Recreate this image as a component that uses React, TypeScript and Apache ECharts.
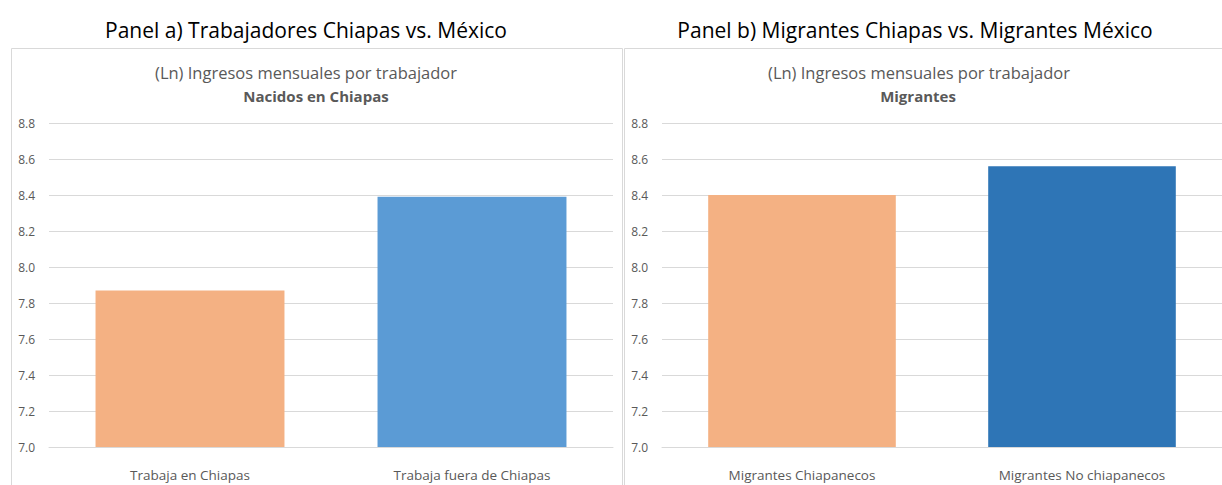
import React, { useEffect, useRef } from "react";
import * as echarts from "echarts";

const categoriesA = ["Trabaja en Chiapas", "Trabaja fuera de Chiapas"];
const valuesA = [7.87, 8.39];
const colorsA = ["#F4B183", "#5B9BD5"];

const categoriesB = ["Migrantes Chiapanecos", "Migrantes No chiapanecos"];
const valuesB = [8.4, 8.56];
const colorsB = ["#F4B183", "#2E75B6"];

const yMin = 7.0;
const yMax = 8.8;
const yInterval = 0.2;

const panelTitles = [
  "Panel a) Trabajadores Chiapas vs. México",
  "Panel b) Migrantes Chiapas vs. Migrantes México",
];
const chartTitles = [
  "(Ln) Ingresos mensuales por trabajador",
  "(Ln) Ingresos mensuales por trabajador",
];
const chartSubtitles = ["Nacidos en Chiapas", "Migrantes"];

const FONT = "'Open Sans', 'Noto Sans', sans-serif";
const GRID = "#D9D9D9";
const LABEL = "#595959";

export default function App() {
  const ref = useRef<HTMLDivElement>(null);
  useEffect(() => {
    if (!ref.current) return;
    const chart = echarts.init(ref.current, undefined, { renderer: "svg" });
    const grids = [
      { left: 49, top: 123, width: 564, height: 324 },
      { left: 662, top: 123, width: 565, height: 324 },
    ];
    const cats = [categoriesA, categoriesB];
    const vals = [valuesA, valuesB];
    const cols = [colorsA, colorsB];
    const centers = [306, 919];
    const panelCenters = [306, 915];
    const xAxis = grids.map((_, i) => ({
      type: "category",
      gridIndex: i,
      data: cats[i],
      axisLine: { show: true, lineStyle: { color: GRID, width: 1 } },
      axisTick: { show: false },
      axisLabel: { color: LABEL, fontSize: 13.5, fontFamily: FONT, margin: 21 },
    }));
    const yAxis = grids.map((_, i) => ({
      type: "value",
      gridIndex: i,
      min: yMin,
      max: yMax,
      interval: yInterval,
      axisLine: { show: false },
      axisTick: { show: false },
      splitLine: { lineStyle: { color: GRID, width: 1 } },
      axisLabel: {
        color: LABEL,
        fontSize: 12,
        fontFamily: FONT,
        margin: 14,
        formatter: (v: number) => v.toFixed(1),
      },
    }));
    const series = grids.map((_, i) => ({
      type: "bar",
      xAxisIndex: i,
      yAxisIndex: i,
      barWidth: "67%",
      data: vals[i].map((v, j) => ({ value: v, itemStyle: { color: cols[i][j] } })),
    }));
    const graphic: any[] = [
      {
        type: "rect",
        shape: { x: 11.5, y: 48.5, width: 611, height: 460 },
        style: { fill: "#fff", stroke: GRID, lineWidth: 1 },
        z: -10,
      },
      {
        type: "rect",
        shape: { x: 624.5, y: 48.5, width: 620, height: 460 },
        style: { fill: "#fff", stroke: GRID, lineWidth: 1 },
        z: -10,
      },
    ];
    for (let i = 0; i < 2; i++) {
      graphic.push({
        type: "text",
        x: panelCenters[i],
        y: 30,
        style: {
          text: panelTitles[i],
          align: "center",
          verticalAlign: "middle",
          fontSize: 21,
          fontFamily: FONT,
          fill: "#000",
        },
      });
      graphic.push({
        type: "text",
        x: centers[i],
        y: 72,
        style: {
          text: chartTitles[i],
          align: "center",
          verticalAlign: "middle",
          fontSize: 16.5,
          fontFamily: FONT,
          fill: LABEL,
        },
      });
      graphic.push({
        type: "text",
        x: i === 0 ? 316 : 918,
        y: 96,
        style: {
          text: chartSubtitles[i],
          align: "center",
          verticalAlign: "middle",
          fontSize: 15,
          fontWeight: "bold",
          fontFamily: FONT,
          fill: LABEL,
        },
      });
    }
    chart.setOption({
      animation: false,
      grid: grids,
      xAxis,
      yAxis,
      series,
      graphic,
    } as any);
    return () => chart.dispose();
  }, []);
  return (
    <div
      style={{
        position: "fixed",
        left: 0,
        top: 0,
        width: 1222,
        height: 485,
        overflow: "hidden",
        background: "#fff",
      }}
    >
      <div ref={ref} style={{ width: 1222, height: 485 }} />
    </div>
  );
}
